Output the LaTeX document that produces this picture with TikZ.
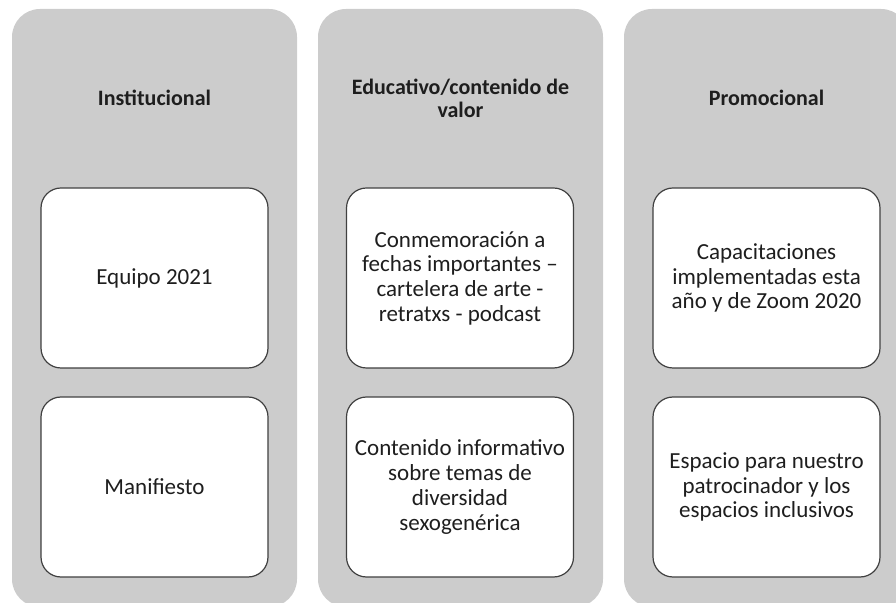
\documentclass[tikz,border=0pt]{standalone}
\usepackage{fontspec}
\setmainfont{Carlito}
\usepackage{tikz}
\definecolor{colgray}{HTML}{CCCCCC}
\definecolor{boxline}{HTML}{404040}
\definecolor{txt}{HTML}{1E1E1E}
\tikzset{
  column/.style={fill=colgray, draw=none, rounded corners=28pt, minimum width=285pt, minimum height=598pt, inner sep=0pt},
  header/.style={align=center, font=\fontsize{22}{23}\selectfont\bfseries, text=txt},
  entry/.style={fill=white, draw=boxline, line width=1.2pt, rounded corners=20pt, minimum width=227pt, minimum height=180pt, align=center, inner sep=0pt, font=\fontsize{23}{24.7}\selectfont, text=txt}
}

\begin{document}
\begin{tikzpicture}[x=1pt,y=1pt]
        \useasboundingbox (0,0) rectangle (896,602);
        % columns
        \node[column] (colA) at (154.5,294) {};
        \node[column] (colB) at (460.5,294) {};
        \node[column] (colC) at (766.5,294) {};

        \node[header] (headA) at (154.5,504) {Institucional};
        \node[header] (headB) at (460.5,503.5) {Educativo/contenido de\\valor};
        \node[header] (headC) at (766.5,504) {Promocional};

        % boxes
        \node[entry] (boxA1) at (154.5,324) {Equipo 2021};
        \node[entry] (boxA2) at (154.5,115) {Manifiesto};
        \node[entry] (boxB1) at (460,324) {Conmemoración a\\fechas importantes --\\cartelera de arte -\\retratxs - podcast};
        \node[entry] (boxB2) at (460,115) {Contenido informativo\\sobre temas de\\diversidad\\sexogenérica};
        \node[entry] (boxC1) at (766.5,324) {Capacitaciones\\implementadas esta\\año y de Zoom 2020};
        \node[entry] (boxC2) at (766.5,115) {Espacio para nuestro\\patrocinador y los\\espacios inclusivos};
\end{tikzpicture}
\end{document}
